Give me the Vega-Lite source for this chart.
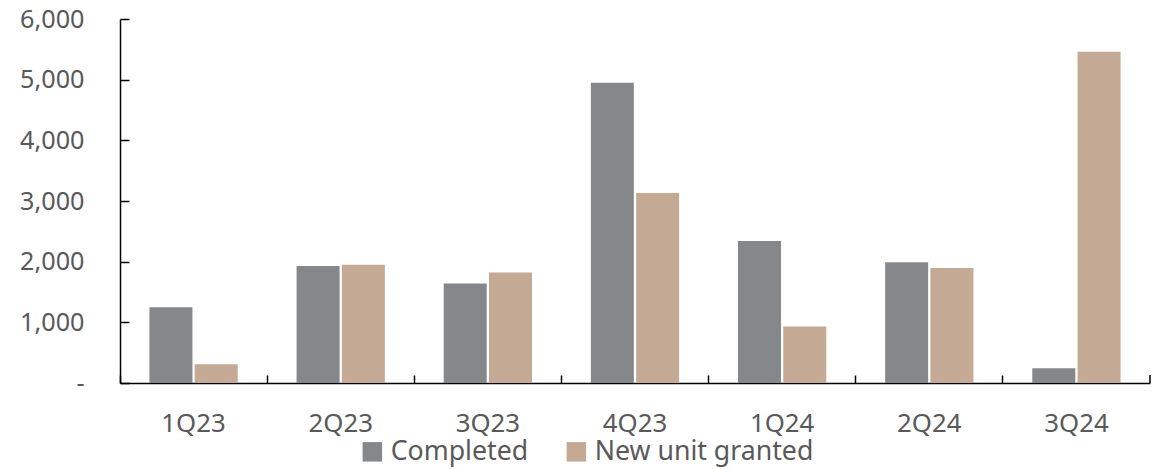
{
  "$schema": "https://vega.github.io/schema/vega-lite/v6.json",
  "width": 1030,
  "height": 364,
  "autosize": {"type": "none"},
  "padding": {"left": 120, "top": 19, "right": 16, "bottom": 86},
  "background": "white",
  "config": {"view": {"stroke": null}, "font": "Noto Sans"},
  "data": {
    "values": [
      {"quarter": "1Q23", "series": "Completed", "value": 1250},
      {"quarter": "1Q23", "series": "New unit granted", "value": 310},
      {"quarter": "2Q23", "series": "Completed", "value": 1930},
      {"quarter": "2Q23", "series": "New unit granted", "value": 1950},
      {"quarter": "3Q23", "series": "Completed", "value": 1640},
      {"quarter": "3Q23", "series": "New unit granted", "value": 1820},
      {"quarter": "4Q23", "series": "Completed", "value": 4950},
      {"quarter": "4Q23", "series": "New unit granted", "value": 3130},
      {"quarter": "1Q24", "series": "Completed", "value": 2340},
      {"quarter": "1Q24", "series": "New unit granted", "value": 930},
      {"quarter": "2Q24", "series": "Completed", "value": 1990},
      {"quarter": "2Q24", "series": "New unit granted", "value": 1895},
      {"quarter": "3Q24", "series": "Completed", "value": 242},
      {"quarter": "3Q24", "series": "New unit granted", "value": 5460}
    ]
  },
  "layer": [
    {
      "mark": {"type": "bar"},
      "encoding": {
        "x": {
          "field": "quarter",
          "type": "nominal",
          "sort": ["1Q23", "2Q23", "3Q23", "4Q23", "1Q24", "2Q24", "3Q24"],
          "scale": {"paddingInner": 0, "paddingOuter": 0},
          "axis": {
            "title": null,
            "bandPosition": 0,
            "labelOffset": 0,
            "tickSize": -8,
            "tickColor": "black",
            "tickWidth": 1.5,
            "domainColor": "black",
            "domainWidth": 1.5,
            "labelAngle": 0,
            "labelFontSize": 25.8,
            "labelColor": "#595959",
            "labelPadding": 36,
            "labelLimit": 300
          }
        },
        "xOffset": {
          "field": "series",
          "type": "nominal",
          "sort": ["Completed", "New unit granted"],
          "scale": {"paddingInner": 0.05, "paddingOuter": 0.65}
        },
        "y": {
          "field": "value",
          "type": "quantitative",
          "scale": {"domain": [0, 6000]},
          "axis": {
            "title": null,
            "grid": false,
            "values": [0, 1000, 2000, 3000, 4000, 5000, 6000],
            "labelExpr": "datum.value == 0 ? '-' : format(datum.value, ',')",
            "tickSize": -9,
            "tickColor": "black",
            "tickWidth": 1.5,
            "domainColor": "black",
            "domainWidth": 1.5,
            "labelFontSize": 25.2,
            "labelColor": "#595959",
            "labelPadding": 45
          }
        },
        "color": {
          "field": "series",
          "type": "nominal",
          "scale": {"domain": ["Completed", "New unit granted"], "range": ["#85888A", "#C4A995"]},
          "legend": {
            "title": null,
            "orient": "none",
            "direction": "horizontal",
            "legendX": 239,
            "legendY": 419,
            "symbolType": "square",
            "symbolSize": 380,
            "symbolStrokeWidth": 0,
            "symbolOpacity": 1,
            "labelFontSize": 26.7,
            "labelColor": "#595959",
            "labelOffset": 5,
            "labelLimit": 400,
            "columnPadding": 34
          }
        }
      }
    },
    {
      "data": {"values": [{"quarter": "3Q24", "tickBase": 0, "tickTop": 132}]},
      "mark": {"type": "rule", "color": "black", "strokeWidth": 1.5},
      "encoding": {
        "x": {
          "field": "quarter",
          "type": "nominal",
          "sort": ["1Q23", "2Q23", "3Q23", "4Q23", "1Q24", "2Q24", "3Q24"],
          "bandPosition": 1
        },
        "y": {"field": "tickBase", "type": "quantitative"},
        "y2": {"field": "tickTop"}
      }
    }
  ]
}
